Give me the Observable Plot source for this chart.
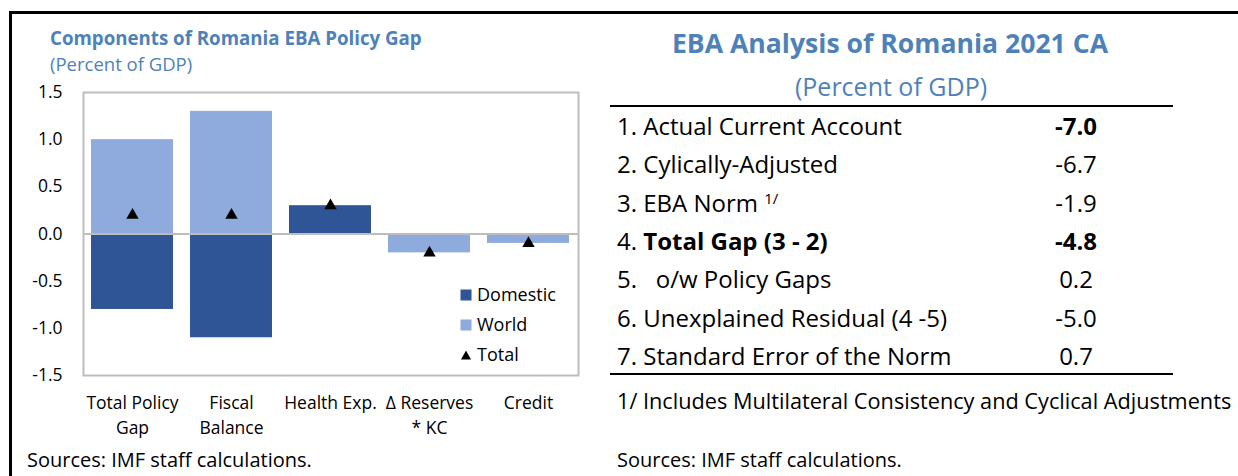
<!DOCTYPE html>
<html><head><meta charset="utf-8">
<script src="https://cdn.jsdelivr.net/npm/d3@7"></script>
<script src="https://cdn.jsdelivr.net/npm/@observablehq/plot@0.6"></script>
<style>
html,body{margin:0;padding:0;background:#fff;}
#root{position:relative;width:1238px;height:476px;overflow:hidden;font-family:"Open Sans",sans-serif;color:#000;}
.t{position:absolute;white-space:pre;line-height:1;}
</style></head><body><div id="root"></div>
<script>
// ---- data ----
const categories = ["Total Policy\nGap", "Fiscal\nBalance", "Health Exp.", "\u0394 Reserves\n* KC", "Credit"];
const seriesNames = ["Domestic", "World"];
const domestic = [-0.8, -1.1, 0.3, 0.0, 0.0];
const world = [1.0, 1.3, 0.0, -0.2, -0.1];
const total = [0.2, 0.2, 0.3, -0.2, -0.1];
const yTicks = [-1.5, -1.0, -0.5, 0.0, 0.5, 1.0, 1.5];

const rowNums = ["1.", "2.", "3.", "4.", "5.", "6.", "7."];
const rowLabels = ["Actual Current Account", "Cylically-Adjusted", "EBA Norm", "Total Gap (3 - 2)", "  o/w Policy Gaps", "Unexplained Residual (4 -5)", "Standard Error of the Norm"];
const rowNotes = ["", "", "1/", "", "", "", ""];
const rowValues = [-7.0, -6.7, -1.9, -4.8, 0.2, -5.0, 0.7];
const boldLabelRows = [3];
const boldValueRows = [0, 3];

// ---- styles ----
const seriesColors = ["#2f5597", "#8faadc"];
const blue = "#4f81b9";
const gridGray = "#bdbdbd";
const root = document.getElementById("root");

function addText(txt, x, cy, fs, opts = {}) {
  const d = document.createElement("div");
  d.className = "t";
  d.style.fontSize = fs + "px";
  d.style.left = x + "px";
  d.style.top = (cy - 0.531 * fs) + "px";
  if (opts.weight) d.style.fontWeight = opts.weight;
  if (opts.color) d.style.color = opts.color;
  if (opts.anchor === "middle") d.style.transform = "translateX(-50%)";
  if (opts.anchor === "end") d.style.transform = "translateX(-100%)";
  if (opts.html) d.innerHTML = txt; else d.textContent = txt;
  root.appendChild(d);
  return d;
}

// outer frame
const box = document.createElement("div");
Object.assign(box.style, {position: "absolute", left: "9px", top: "11px", width: "1400px", height: "600px",
  borderTop: "3px solid #000", borderLeft: "3px solid #000"});
root.appendChild(box);

// left titles
addText("Components of Romania EBA Policy Gap", 50, 39, 18.7, {weight: 700, color: blue});
addText("(Percent of GDP)", 50, 65, 18.5, {color: blue});

// chart
const barData = [];
categories.forEach((c, i) => {
  barData.push({cat: c, series: "Domestic", value: domestic[i]});
  barData.push({cat: c, series: "World", value: world[i]});
});
const totData = categories.map((c, i) => ({cat: c, total: total[i]}));

const chart = Plot.plot({
  width: 600, height: 365, marginTop: 12, marginRight: 22, marginBottom: 70, marginLeft: 83,
  style: {fontFamily: '"Open Sans", sans-serif', fontSize: "17.5px", color: "#000", background: "transparent", overflow: "visible"},
  x: {domain: categories, paddingInner: 0.17, paddingOuter: 0.085, axis: null},
  y: {domain: [-1.5, 1.5], ticks: yTicks, tickFormat: d => d.toFixed(1), tickSize: 0, tickPadding: 21, label: null},
  color: {domain: seriesNames, range: seriesColors},
  marks: [
    Plot.barY(barData, {x: "cat", y: "value", fill: "series"}),
    Plot.ruleY([0], {stroke: gridGray, strokeWidth: 2}),
    Plot.frame({stroke: gridGray, strokeWidth: 2}),
    Plot.dot(totData, {x: "cat", y: "total", symbol: "triangle", r: 4.6, fill: "#000"}),
    Plot.text(categories, {x: d => d, frameAnchor: "bottom", lineAnchor: "top", dy: 16, lineHeight: 1.43, fill: "#000"})
  ]
});
chart.style.position = "absolute";
chart.style.left = "0px";
chart.style.top = "80px";
root.appendChild(chart);

// legend (inside plot area)
const legendItems = [...seriesNames.map((s, i) => ({label: s, color: seriesColors[i], kind: "rect"})), {label: "Total", color: "#000", kind: "tri"}];
legendItems.forEach((it, i) => {
  const cy = 295 + i * 30;
  const sw = document.createElementNS("http://www.w3.org/2000/svg", "svg");
  sw.setAttribute("width", 12); sw.setAttribute("height", 12);
  Object.assign(sw.style, {position: "absolute", left: "460px", top: (cy - 6) + "px"});
  sw.innerHTML = it.kind === "rect"
    ? `<rect x="0.5" y="0.5" width="11" height="11" fill="${it.color}"/>`
    : `<polygon points="6,1.5 11,10.5 1,10.5" fill="${it.color}"/>`;
  root.appendChild(sw);
  addText(it.label, 477, cy, 18);
});

addText("Sources: IMF staff calculations.", 27, 461, 20);

// right table
addText("EBA Analysis of Romania 2021 CA", 890, 44, 26.6, {weight: 700, color: blue, anchor: "middle"});
addText("(Percent of GDP)", 891, 87, 25, {color: blue, anchor: "middle"});

function rule(y) {
  const r = document.createElement("div");
  Object.assign(r.style, {position: "absolute", left: "610px", width: "563px", top: (y - 1) + "px", height: "2px", background: "#000"});
  root.appendChild(r);
}
rule(106);
rule(374);

rowLabels.forEach((lab, i) => {
  const cy = 126.7 + i * 38.33;
  const labHtml = boldLabelRows.includes(i) ? `<b>${lab}</b>` : lab;
  const note = rowNotes[i] ? ` <sup style="font-size:15px;vertical-align:0.55em">${rowNotes[i]}</sup>` : "";
  addText(`${rowNums[i]} ${labHtml}${note}`, 617, cy, 24, {html: true});
  addText(rowValues[i].toFixed(1), 1076, cy, 24, {anchor: "middle", weight: boldValueRows.includes(i) ? 700 : 400});
});

addText("1/ Includes Multilateral Consistency and Cyclical Adjustments", 617, 402, 21.7);
addText("Sources: IMF staff calculations.", 617, 461, 20);
</script></body></html>
